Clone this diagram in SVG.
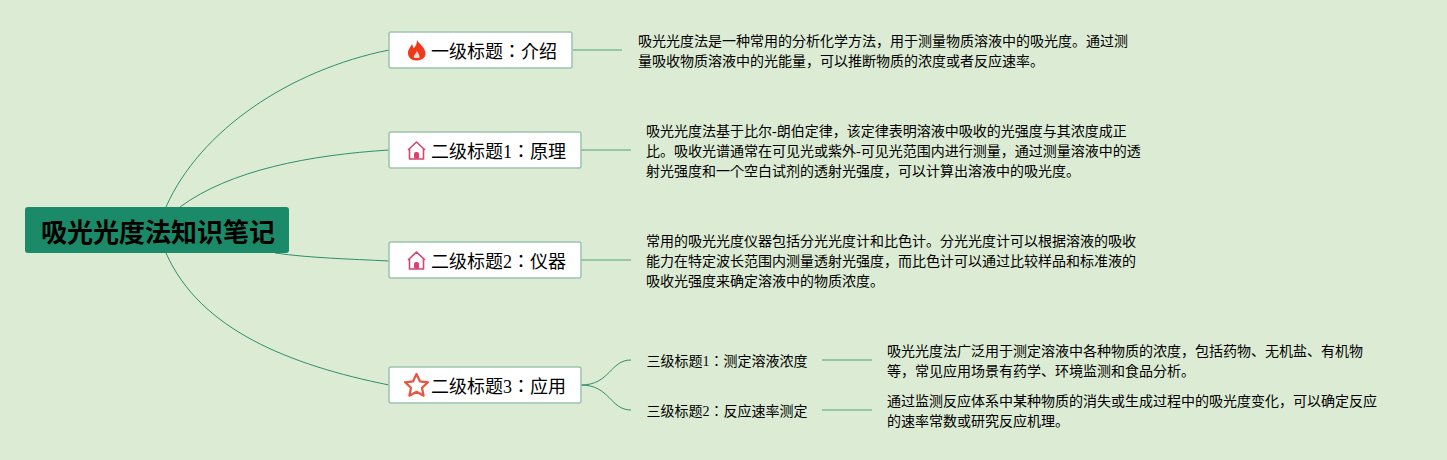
<svg xmlns="http://www.w3.org/2000/svg" width="1447" height="460" viewBox="0 0 1447 460">
<style>
text{font-family:"Liberation Serif","Noto Sans CJK JP",serif;fill:#000}
.c{fill:none;stroke:#2f8f6c;stroke-width:1}
.s{fill:none;stroke:#7dbb92;stroke-width:1.500}
.b{fill:#fff;stroke:#9cc3b0;stroke-width:1.500}
.t{font-size:18px}
.l{font-size:14px}
</style>
<rect width="1447" height="460" fill="#dcebd3"/>
<g id="connectors">
<path class="c" d="M166 207C200 130 290 70 389 50"/>
<path class="c" d="M180 207C230 170 310 155 389 150"/>
<path class="c" d="M275 253C310 258 350 259 389 261"/>
<path class="c" d="M166 253C200 330 290 365 389 385"/>
<path class="s" d="M573 50H622"/>
<path class="s" d="M581 150H631"/>
<path class="s" d="M581 260H631"/>
<path class="c" d="M581 385C610 385 610 360 631 360"/>
<path class="c" d="M581 385C610 385 610 410 631 410"/>
<path class="s" d="M822 360H872"/>
<path class="s" d="M822 410H872"/>
</g>
<g id="root"><rect x="25" y="207" width="264" height="46" rx="3" fill="#1b8a68"/><text x="41" y="241.500" font-size="26" font-weight="700">吸光光度法知识笔记</text></g>
<g id="n1"><rect class="b" x="389" y="32" width="183" height="36" rx="2"/>
<path d="M417 40C419 44 425.500 47 425.500 54C425.500 58 421 60.500 416.500 60.500C411 60.500 408 57 408 53C408 49 411 47 412 44C413 46 413 48 414 48C416 46 417 43 417 40Z" fill="#f0391a"/><path d="M417 51C418 53 420 55 419.500 58H414C413 55 416 54 417 51Z" fill="#ffd9c8"/>
<text class="t" x="431" y="57.500">一级标题：介绍</text></g>
<g id="n2"><rect class="b" x="389" y="132" width="192" height="36" rx="2"/>
<path d="M408 150L416.500 142L425 150M409.500 149V159H423.500V149" fill="none" stroke="#d8436f" stroke-width="1.600" stroke-linejoin="round"/><rect x="414" y="152" width="5" height="7" rx="2" fill="#d8436f"/>
<text class="t" x="431" y="157.500">二级标题1：原理</text></g>
<g id="n3"><rect class="b" x="389" y="242" width="192" height="36" rx="2"/>
<path d="M408 260L416.500 252L425 260M409.500 259V269H423.500V259" fill="none" stroke="#d8436f" stroke-width="1.600" stroke-linejoin="round"/><rect x="414" y="262" width="5" height="7" rx="2" fill="#d8436f"/>
<text class="t" x="431" y="267.500">二级标题2：仪器</text></g>
<g id="n4"><rect class="b" x="389" y="367" width="192" height="36" rx="2"/>
<path d="M416.500 374L419.900 381.300L428 382.300L422 387.800L423.600 395.700L416.500 391.800L409.400 395.700L411 387.800L405 382.300L413.100 381.300Z" fill="#fff" stroke="#e8543f" stroke-width="2.200" stroke-linejoin="round"/>
<text class="t" x="431" y="392.500">二级标题3：应用</text></g>
<g id="d1"><text class="l" x="638" y="46">吸光光度法是一种常用的分析化学方法，用于测量物质溶液中的吸光度。通过测</text><text class="l" x="638" y="66">量吸收物质溶液中的光能量，可以推断物质的浓度或者反应速率。</text></g>
<g id="d2"><text class="l" x="646" y="136">吸光光度法基于比尔-朗伯定律，该定律表明溶液中吸收的光强度与其浓度成正</text><text class="l" x="646" y="156">比。吸收光谱通常在可见光或紫外-可见光范围内进行测量，通过测量溶液中的透</text><text class="l" x="646" y="176">射光强度和一个空白试剂的透射光强度，可以计算出溶液中的吸光度。</text></g>
<g id="d3"><text class="l" x="646" y="246">常用的吸光光度仪器包括分光光度计和比色计。分光光度计可以根据溶液的吸收</text><text class="l" x="646" y="266">能力在特定波长范围内测量透射光强度，而比色计可以通过比较样品和标准液的</text><text class="l" x="646" y="286">吸收光强度来确定溶液中的物质浓度。</text></g>
<g id="s1"><text class="l" x="646.500" y="366">三级标题1：测定溶液浓度</text></g>
<g id="s2"><text class="l" x="646.500" y="416">三级标题2：反应速率测定</text></g>
<g id="d4"><text class="l" x="887" y="356">吸光光度法广泛用于测定溶液中各种物质的浓度，包括药物、无机盐、有机物</text><text class="l" x="887" y="376">等，常见应用场景有药学、环境监测和食品分析。</text></g>
<g id="d5"><text class="l" x="887" y="406">通过监测反应体系中某种物质的消失或生成过程中的吸光度变化，可以确定反应</text><text class="l" x="887" y="426">的速率常数或研究反应机理。</text></g>
</svg>
